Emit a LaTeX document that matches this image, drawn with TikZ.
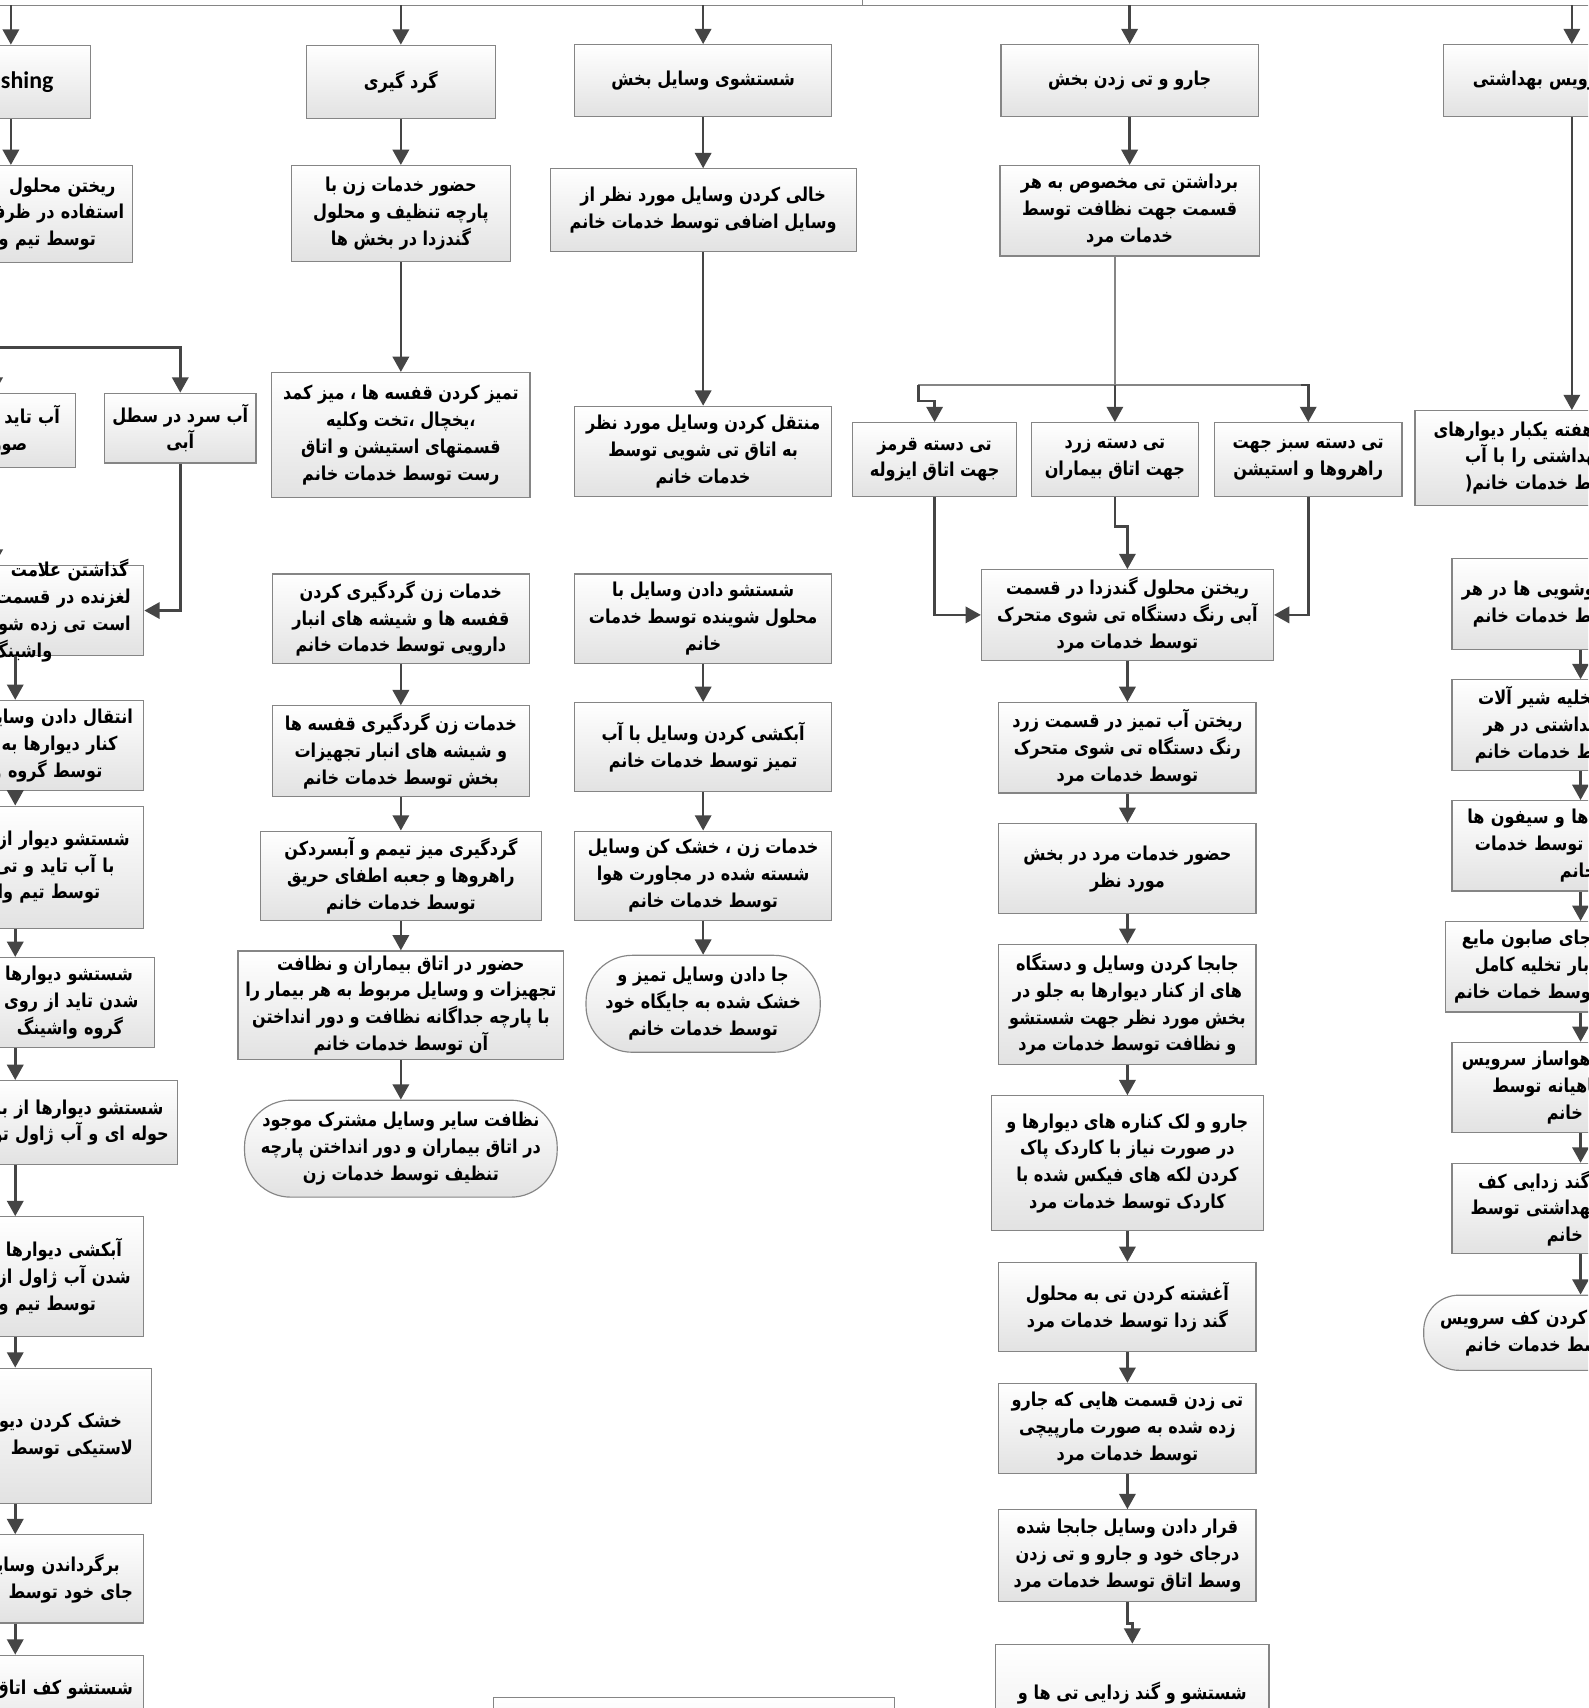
\documentclass[tikz,border=0pt]{standalone}
\usepackage{fontspec}
\setmainfont{Carlito}
\newfontfamily\farsi[Script=Arabic,FakeStretch=0.84]{DejaVu Sans}
\TeXXeTstate=1
\usetikzlibrary{arrows.meta}
\newlength{\pxlen}
\setlength{\pxlen}{0.02cm}
\newcommand{\fa}[1]{\mbox{\beginR #1\endR}}
\newcommand{\sk}[1]{\hspace*{#1\pxlen}\null}
\definecolor{flowgray}{HTML}{454545}
\definecolor{edgegray}{HTML}{858585}
\definecolor{shadegray}{HTML}{E2E2E2}
\tikzset{
  box/.style={draw=edgegray,line width=0.6pt,top color=white,
    bottom color=shadegray,inner sep=2pt,align=center,
    font=\farsi\bfseries\fontsize{10}{14}\selectfont},
  endbox/.style={box,rounded corners=#1},
  sz/.style 2 args={minimum width=#1*0.02cm,minimum height=#2*0.02cm},
  cutleft/.style={align=right,text width=#1},
  cutright/.style={align=left,text width=#1},
  flow/.style={->,draw=flowgray,line width=1.4pt},
  wire/.style={draw=edgegray,line width=0.7pt}}

\begin{document}
\begin{tikzpicture}[x=0.02cm,y=-0.02cm,>={Triangle[length=8pt,width=8.5pt]}]
  % Frame
  \useasboundingbox (0,0) rectangle (1458,1568);
  \fill[white] (0,0) rectangle (1458,1568);
  \clip (0,0) rectangle (1458,1568);
  %
  % Top bar
  \coordinate (stem) at (792,0);
  \coordinate (bar) at (792,5);
  \coordinate (barL) at (-20,5);
  \coordinate (barR) at (1480,5);
  \draw[wire] (stem) -- (bar);
  \draw[wire] (barL) -- (barR);
  %
  % Headers
  \node[box,sz={146}{67},font=\rmfamily\bfseries\fontsize{12.5}{14}\selectfont]
    (hW) at (10,75) {Washing};
  \node[box,sz={174}{67}] (hG) at (368,75) {\fa{گرد گیری}};
  \node[box,sz={236}{66}] (hS) at (645.5,74) {\fa{شستشوی وسایل بخش}};
  \node[box,sz={236}{66}] (hJ) at (1037,74) {\fa{جارو و تی زدن بخش}};
  \node[box,sz={236}{66},cutright=4.4cm] (hV) at (1443,74)
    {\sk{19}\fa{سرویس بهداشتی}};
  \draw[flow] (hW |- bar) -- (hW);
  \draw[flow] (hG |- bar) -- (hG);
  \draw[flow] (hS |- bar) -- (hS);
  \draw[flow] (hJ |- bar) -- (hJ);
  \draw[flow] (hV |- bar) -- (hV);
  %
  % Washing column
  \coordinate (wsplit) at (-20,319);
  \node[box,sz={224}{89},cutleft=4.16cm] (bW1) at (10,196.5)
    {\fa{ریختن محلول}\sk{8}\\\fa{استفاده در ظرف}\\\fa{توسط تیم واشینگ}\sk{26}};
  \node[box,sz={148}{68},cutleft=2.64cm] (bWt) at (-5,395)
    {\fa{آب تاید}\sk{6}\\\fa{صورت}\sk{36}};
  \node[box,sz={139}{64}] (bW2) at (165.5,393) {\fa{آب سرد در سطل}\\\fa{آبی}};
  \node[box,sz={236}{83},cutleft=4.4cm,inner ysep=-6pt] (bW3) at (14,560.5)
    {\fa{گذاشتن  علامت}\sk{6}\\\fa{لغزنده در قسمت}\sk{4}\\\fa{است تی زده شود}\sk{4}\\\fa{واشینگ}\sk{76}};
  \node[box,sz={236}{83},cutleft=4.4cm] (bW4) at (14,684.5)
    {\fa{انتقال دادن وسایل}\sk{2}\\\fa{کنار دیوارها به}\sk{16}\\\fa{توسط گروه واشینگ}\sk{30}};
  \node[box,sz={236}{112},cutleft=4.4cm] (bW5) at (14,796)
    {\fa{شستشو دیوار از}\sk{5}\\\fa{با آب تاید و تی}\sk{19}\\\fa{توسط تیم واشینگ}\sk{32}};
  \node[box,sz={256}{83},cutleft=4.8cm] (bW6) at (14,920.5)
    {\fa{شستشو دیوارها}\sk{12}\\\fa{شدن تاید از روی}\sk{7}\\\fa{گروه واشینگ}\sk{21}};
  \node[box,sz={298}{77},cutleft=5.64cm] (bW7) at (14,1030.5)
    {\fa{شستشو دیوارها از با}\sk{5}\\\fa{حوله ای و آب ژاول توسط}};
  \node[box,sz={236}{110},cutleft=4.4cm] (bW8) at (14,1172)
    {\fa{آبکشی دیوارها}\sk{12}\\\fa{شدن آب ژاول از}\sk{4}\\\fa{توسط تیم واشینگ}\sk{36}};
  \node[box,sz={250}{124},cutleft=4.68cm] (bW9) at (14,1318)
    {\fa{خشک کردن دیوار}\sk{19}\\\fa{لاستیکی توسط}\sk{9}};
  \node[box,sz={236}{81},cutleft=4.4cm] (bW10) at (14,1449.5)
    {\fa{برگرداندن وسایل}\sk{14}\\\fa{جای خود توسط}\sk{2}};
  \node[box,sz={236}{83},cutleft=4.4cm,anchor=north] (bW11) at (14,1519)
    {\fa{شستشو کف اتاق}\sk{2}\\\mbox{}};
  \draw[flow] (hW) -- (bW1);
  \draw[flow] (bW1.south -| wsplit) -- (wsplit) -| (bW2.north);
  \draw[flow] (wsplit) -| (bWt.north);
  \draw[flow] (bWt.south) -- (bWt.south |- bW3.north);
  \draw[flow] (bW2.south) |- (bW3.east);
  \draw[flow] (bW3) -- (bW4);
  \draw[flow] (bW4) -- (bW5);
  \draw[flow] (bW5) -- (bW6);
  \draw[flow] (bW6) -- (bW7);
  \draw[flow] (bW7) -- (bW8);
  \draw[flow] (bW8) -- (bW9);
  \draw[flow] (bW9) -- (bW10);
  \draw[flow] (bW10) -- (bW11);
  %
  % Dusting column
  \node[box,sz={201}{88}] (bG1) at (368,196)
    {\fa{حضور خدمات زن با}\\\fa{پارچه تنظیف و محلول}\\\fa{گندزدا در بخش ها}};
  \node[box,sz={237}{115}] (bG2) at (368,399.5)
    {\fa{تمیز کردن قفسه ها ، میز کمد}\\\fa{،یخچال ،تخت وکلیه}\\\fa{قسمتهای استیشن و اتاق}\\\fa{رست توسط خدمات خانم}};
  \node[box,sz={236}{82}] (bG3) at (368,568)
    {\fa{خدمات زن گردگیری کردن}\\\fa{قفسه ها و شیشه های انبار}\\\fa{دارویی توسط خدمات خانم}};
  \node[box,sz={236}{83}] (bG4) at (368,689.5)
    {\fa{خدمات زن گردگیری قفسه ها}\\\fa{و شیشه های انبار تجهیزات}\\\fa{بخش توسط خدمات خانم}};
  \node[box,sz={258}{82}] (bG5) at (368,804)
    {\fa{گردگیری میز تیمم و آبسردکن}\\\fa{راهروها و جعبه اطفای حریق}\\\fa{توسط خدمات خانم}};
  \node[box,sz={299}{100}] (bG6) at (368,923)
    {\fa{حضور در اتاق بیماران و نظافت}\\\fa{تجهیزات و وسایل مربوط به هر بیمار را}\\\fa{با پارچه جداگانه نظافت و دور انداختن}\\\fa{آن توسط خدمات خانم}};
  \node[endbox=0.85cm,sz={287}{89}] (bG7) at (368,1054.5)
    {\fa{نظافت سایر وسایل مشترک موجود}\\\fa{در اتاق بیماران و دور انداختن پارچه}\\\fa{تنظیف توسط خدمات زن}};
  \draw[flow] (hG) -- (bG1);
  \draw[flow] (bG1) -- (bG2);
  \draw[flow] (bG3) -- (bG4);
  \draw[flow] (bG4) -- (bG5);
  \draw[flow] (bG5) -- (bG6);
  \draw[flow] (bG6) -- (bG7);
  %
  % Washing tools column
  \node[box,sz={281}{76}] (bS1) at (645.5,193)
    {\fa{خالی کردن وسایل مورد نظر از}\\\fa{وسایل اضافی توسط خدمات خانم}};
  \node[box,sz={236}{83}] (bS2) at (645.5,414.5)
    {\fa{منتقل کردن وسایل مورد نظر}\\\fa{به اتاق تی شویی توسط}\\\fa{خدمات خانم}};
  \node[box,sz={236}{82}] (bS3) at (645.5,568)
    {\fa{شستشو دادن وسایل با}\\\fa{محلول شوینده توسط خدمات}\\\fa{خانم}};
  \node[box,sz={236}{82}] (bS4) at (645.5,686)
    {\fa{آبکشی کردن وسایل با آب}\\\fa{تمیز توسط خدمات خانم}};
  \node[box,sz={236}{82}] (bS5) at (645.5,804)
    {\fa{خدمات زن ، خشک کن وسایل}\\\fa{شسته شده در مجاورت هوا}\\\fa{توسط خدمات خانم}};
  \node[endbox=0.85cm,sz={215}{89}] (bS6) at (645.5,921.5)
    {\fa{جا دادن وسایل تمیز و}\\\fa{خشک شده به جایگاه خود}\\\fa{توسط خدمات خانم}};
  \node[box,sz={368}{90},anchor=north] (bX) at (637,1558) {};
  \draw[flow] (hS) -- (bS1);
  \draw[flow] (bS1) -- (bS2);
  \draw[flow] (bS3) -- (bS4);
  \draw[flow] (bS4) -- (bS5);
  \draw[flow] (bS5) -- (bS6);
  %
  % Sweeping column
  \node[box,sz={238}{83}] (bJ1) at (1037,193.5)
    {\fa{برداشتن تی مخصوص به هر}\\\fa{قسمت جهت نظافت توسط}\\\fa{خدمات مرد}};
  \node[box,sz={150}{68}] (tR) at (858,422) {\fa{تی دسته قرمز}\\\fa{جهت اتاق ایزوله}};
  \node[box,sz={153}{68}] (tY) at (1023.5,422) {\fa{تی دسته زرد}\\\fa{جهت اتاق بیماران}};
  \node[box,sz={172}{68}] (tG) at (1201,422) {\fa{تی دسته سبز جهت}\\\fa{راهروها و استیشن}};
  \node[box,sz={268}{83}] (bJ2) at (1035,564.5)
    {\fa{ریختن محلول گندزدا در قسمت}\\\fa{آبی رنگ دستگاه تی شوی متحرک}\\\fa{توسط خدمات مرد}};
  \node[box,sz={236}{83}] (bJ3) at (1035,686.5)
    {\fa{ریختن آب تمیز در قسمت زرد}\\\fa{رنگ دستگاه تی شوی متحرک}\\\fa{توسط خدمات مرد}};
  \node[box,sz={236}{83}] (bJ4) at (1035,797.5)
    {\fa{حضور خدمات مرد در بخش}\\\fa{مورد نظر}};
  \node[box,sz={236}{110}] (bJ5) at (1035,922)
    {\fa{جابجا کردن وسایل و دستگاه}\\\fa{های از کنار دیوارها به جلو در}\\\fa{بخش مورد نظر جهت شستشو}\\\fa{و نظافت توسط خدمات مرد}};
  \node[box,sz={250}{124}] (bJ6) at (1035,1068)
    {\fa{جارو و لک کناره های دیوارها و}\\\fa{در صورت نیاز با کاردک پاک}\\\fa{کردن لکه های فیکس شده با}\\\fa{کاردک توسط خدمات مرد}};
  \node[box,sz={236}{82}] (bJ7) at (1035,1200)
    {\fa{آغشته کردن تی به محلول}\\\fa{گند زدا توسط خدمات مرد}};
  \node[box,sz={236}{83}] (bJ8) at (1035,1311.5)
    {\fa{تی زدن قسمت هایی که جارو}\\\fa{زده شده به صورت مارپیچی}\\\fa{توسط خدمات مرد}};
  \node[box,sz={236}{84}] (bJ9) at (1035,1428)
    {\fa{قرار دادن وسایل جابجا شده}\\\fa{درجای خود و جارو و تی زدن}\\\fa{وسط اتاق توسط خدمات مرد}};
  \node[box,sz={251}{160},anchor=north] (bJ10) at (1039.5,1509)
    {\fa{شستشو و گند زدایی تی ها و}\\\mbox{}\\\mbox{}\\\mbox{}};
  \coordinate (jsplit) at (1023.5,353.5);
  \coordinate (jleft) at (843,353.5);
  \coordinate (jright) at (1194,353.5);
  \draw[flow] (hJ) -- (bJ1);
  \draw[wire] (bJ1.south -| jsplit) -- (jsplit);
  \draw[wire] (jleft) -- (jright);
  \draw[flow] (jleft) -- ++(0,14.5) -| (tR.north);
  \draw[flow] (jsplit) -- (tY.north);
  \draw[flow] (jright) -| (tG.north);
  \draw[flow] (tR.south) |- (bJ2.west);
  \draw[flow] (tY.south) -- ++(0,27) -| (bJ2.north);
  \draw[flow] (tG.south) |- (bJ2.east);
  \draw[flow] (bJ2) -- (bJ3);
  \draw[flow] (bJ3) -- (bJ4);
  \draw[flow] (bJ4) -- (bJ5);
  \draw[flow] (bJ5) -- (bJ6);
  \draw[flow] (bJ6) -- (bJ7);
  \draw[flow] (bJ7) -- (bJ8);
  \draw[flow] (bJ8) -- (bJ9);
  \draw[flow] (bJ9.south) -- ++(0,20) -| (bJ10.north);
  %
  % Sanitary column
  \node[box,sz={288}{87},cutright=5.44cm] (bV1) at (1443,420.5)
    {\sk{9}\fa{هر هفته یکبار دیوارهای}\\\sk{38}\fa{سرویس بهداشتی را با آب}\\\sk{38}\fa{توسط خدمات خانم(}};
  \node[box,sz={236}{83},cutright=4.4cm] (bV2) at (1451,554.5)
    {\sk{1}\fa{روشویی ها در هر}\\\sk{11}\fa{توسط خدمات خانم}};
  \node[box,sz={236}{83},cutright=4.4cm] (bV3) at (1451,665.5)
    {\sk{16}\fa{تخلیه شیر آلات}\\\sk{21}\fa{بهداشتی در هر}\\\sk{13}\fa{توسط خدمات خانم}};
  \node[box,sz={236}{83},cutright=4.4cm] (bV4) at (1451,776.5)
    {\sk{6}\fa{ها و سیفون ها}\\\sk{13}\fa{توسط خدمات}\\\sk{91}\fa{خانم}};
  \node[box,sz={248}{83},cutright=4.64cm] (bV5) at (1451,887.5)
    {\sk{7}\fa{جای صابون مایع}\\\sk{19}\fa{بار تخلیه کامل}\\\fa{توسط خمات خانم}};
  \node[box,sz={236}{83},cutright=4.4cm] (bV6) at (1451,998.5)
    {\sk{1}\fa{هواساز سرویس}\\\sk{29}\fa{ماهیانه توسط}\\\sk{79}\fa{خدمات خانم}};
  \node[box,sz={236}{83},cutright=4.4cm] (bV7) at (1451,1109.5)
    {\sk{16}\fa{گند زدایی کف}\\\sk{9}\fa{بهداشتی توسط}\\\sk{79}\fa{خدمات خانم}};
  \node[endbox=0.65cm,sz={288}{69},cutright=5.44cm] (bV8) at (1451,1223.5)
    {\sk{7}\fa{کردن کف سرویس}\\\sk{30}\fa{توسط خدمات خانم}};
  \draw[flow] (hV) -- (bV1);
  \draw[flow] (bV2) -- (bV3);
  \draw[flow] (bV3) -- (bV4);
  \draw[flow] (bV4) -- (bV5);
  \draw[flow] (bV5) -- (bV6);
  \draw[flow] (bV6) -- (bV7);
  \draw[flow] (bV7) -- (bV8);
\end{tikzpicture}
\end{document}
